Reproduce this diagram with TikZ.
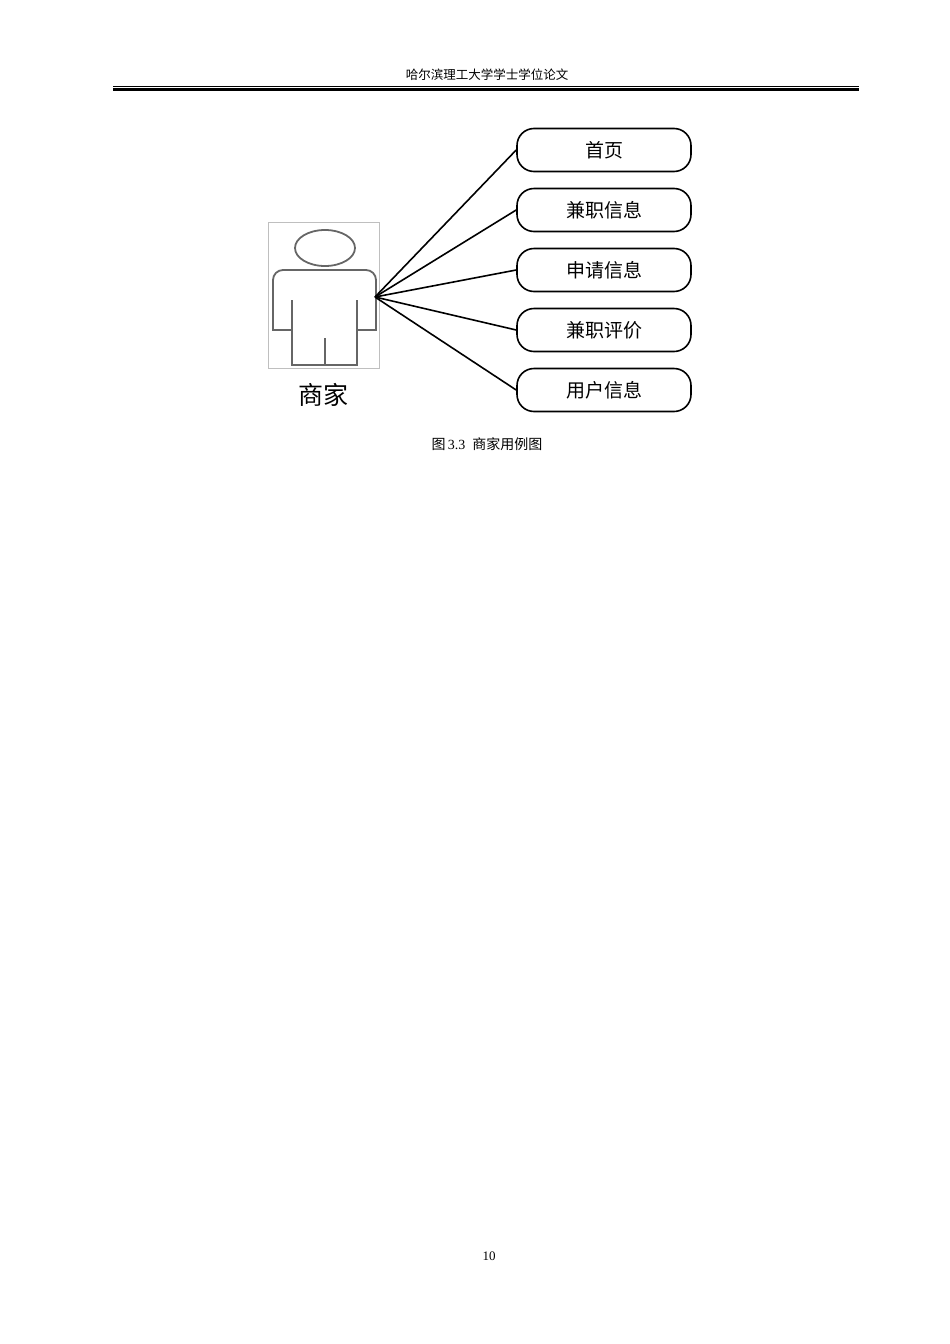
\documentclass[tikz,border=0pt]{standalone}
\usepackage{fontspec}
\setmainfont{Liberation Serif}
\newfontfamily\cjk{Noto Sans CJK SC}
\begin{document}
\begin{tikzpicture}[x=1pt,y=-1pt,
 uc/.style={draw,line width=1.6pt,rounded corners=17pt,minimum width=174pt,minimum height=43pt,font=\cjk\fontsize{19}{19}\selectfont},
 fig/.style={draw=black!60,line width=1.8pt}]
\useasboundingbox (0,0) rectangle (950,1344);
\node[font=\cjk\fontsize{12.5}{12.5}\selectfont] (hdr) at (487,75) {哈尔滨理工大学学士学位论文};
\draw[line width=0.7pt] (113,86) -- (859,86);
\draw[line width=2.4pt] (113,89.5) -- (859,89.5);
\node[draw=black!25,line width=0.5pt,minimum width=111pt,minimum height=146pt] (actbox) at (323.5,295) {};
\draw[fig] (325,248) ellipse [x radius=30, y radius=18];
\draw[fig] (292,300) -- (292,330) -- (273,330) [rounded corners=10pt] -- (273,270) -- (376,270) [sharp corners] -- (376,330) -- (357,330) -- (357,300);
\draw[fig] (292,300) -- (292,365) -- (357,365) -- (357,300);
\draw[fig] (325,338) -- (325,365);
\node[font=\cjk\fontsize{25}{25}\selectfont] (actor) at (323,395) {商家};
\coordinate (p) at (375,297);
\node[uc] (u1) at (604,150) {首页};
\node[uc] (u2) at (604,210) {兼职信息};
\node[uc] (u3) at (604,270) {申请信息};
\node[uc] (u4) at (604,330) {兼职评价};
\node[uc] (u5) at (604,390) {用户信息};
\foreach \n in {u1,u2,u3,u4,u5} \draw[line width=1.6pt] (p) -- (\n.west);
\node[font=\cjk\fontsize{14}{14}\selectfont] (cap) at (487,444) {图\,{\rmfamily 3.3}\enspace 商家用例图};
\node[font=\fontsize{13}{13}\selectfont] (pg) at (489,1256) {10};
\end{tikzpicture}
\end{document}
